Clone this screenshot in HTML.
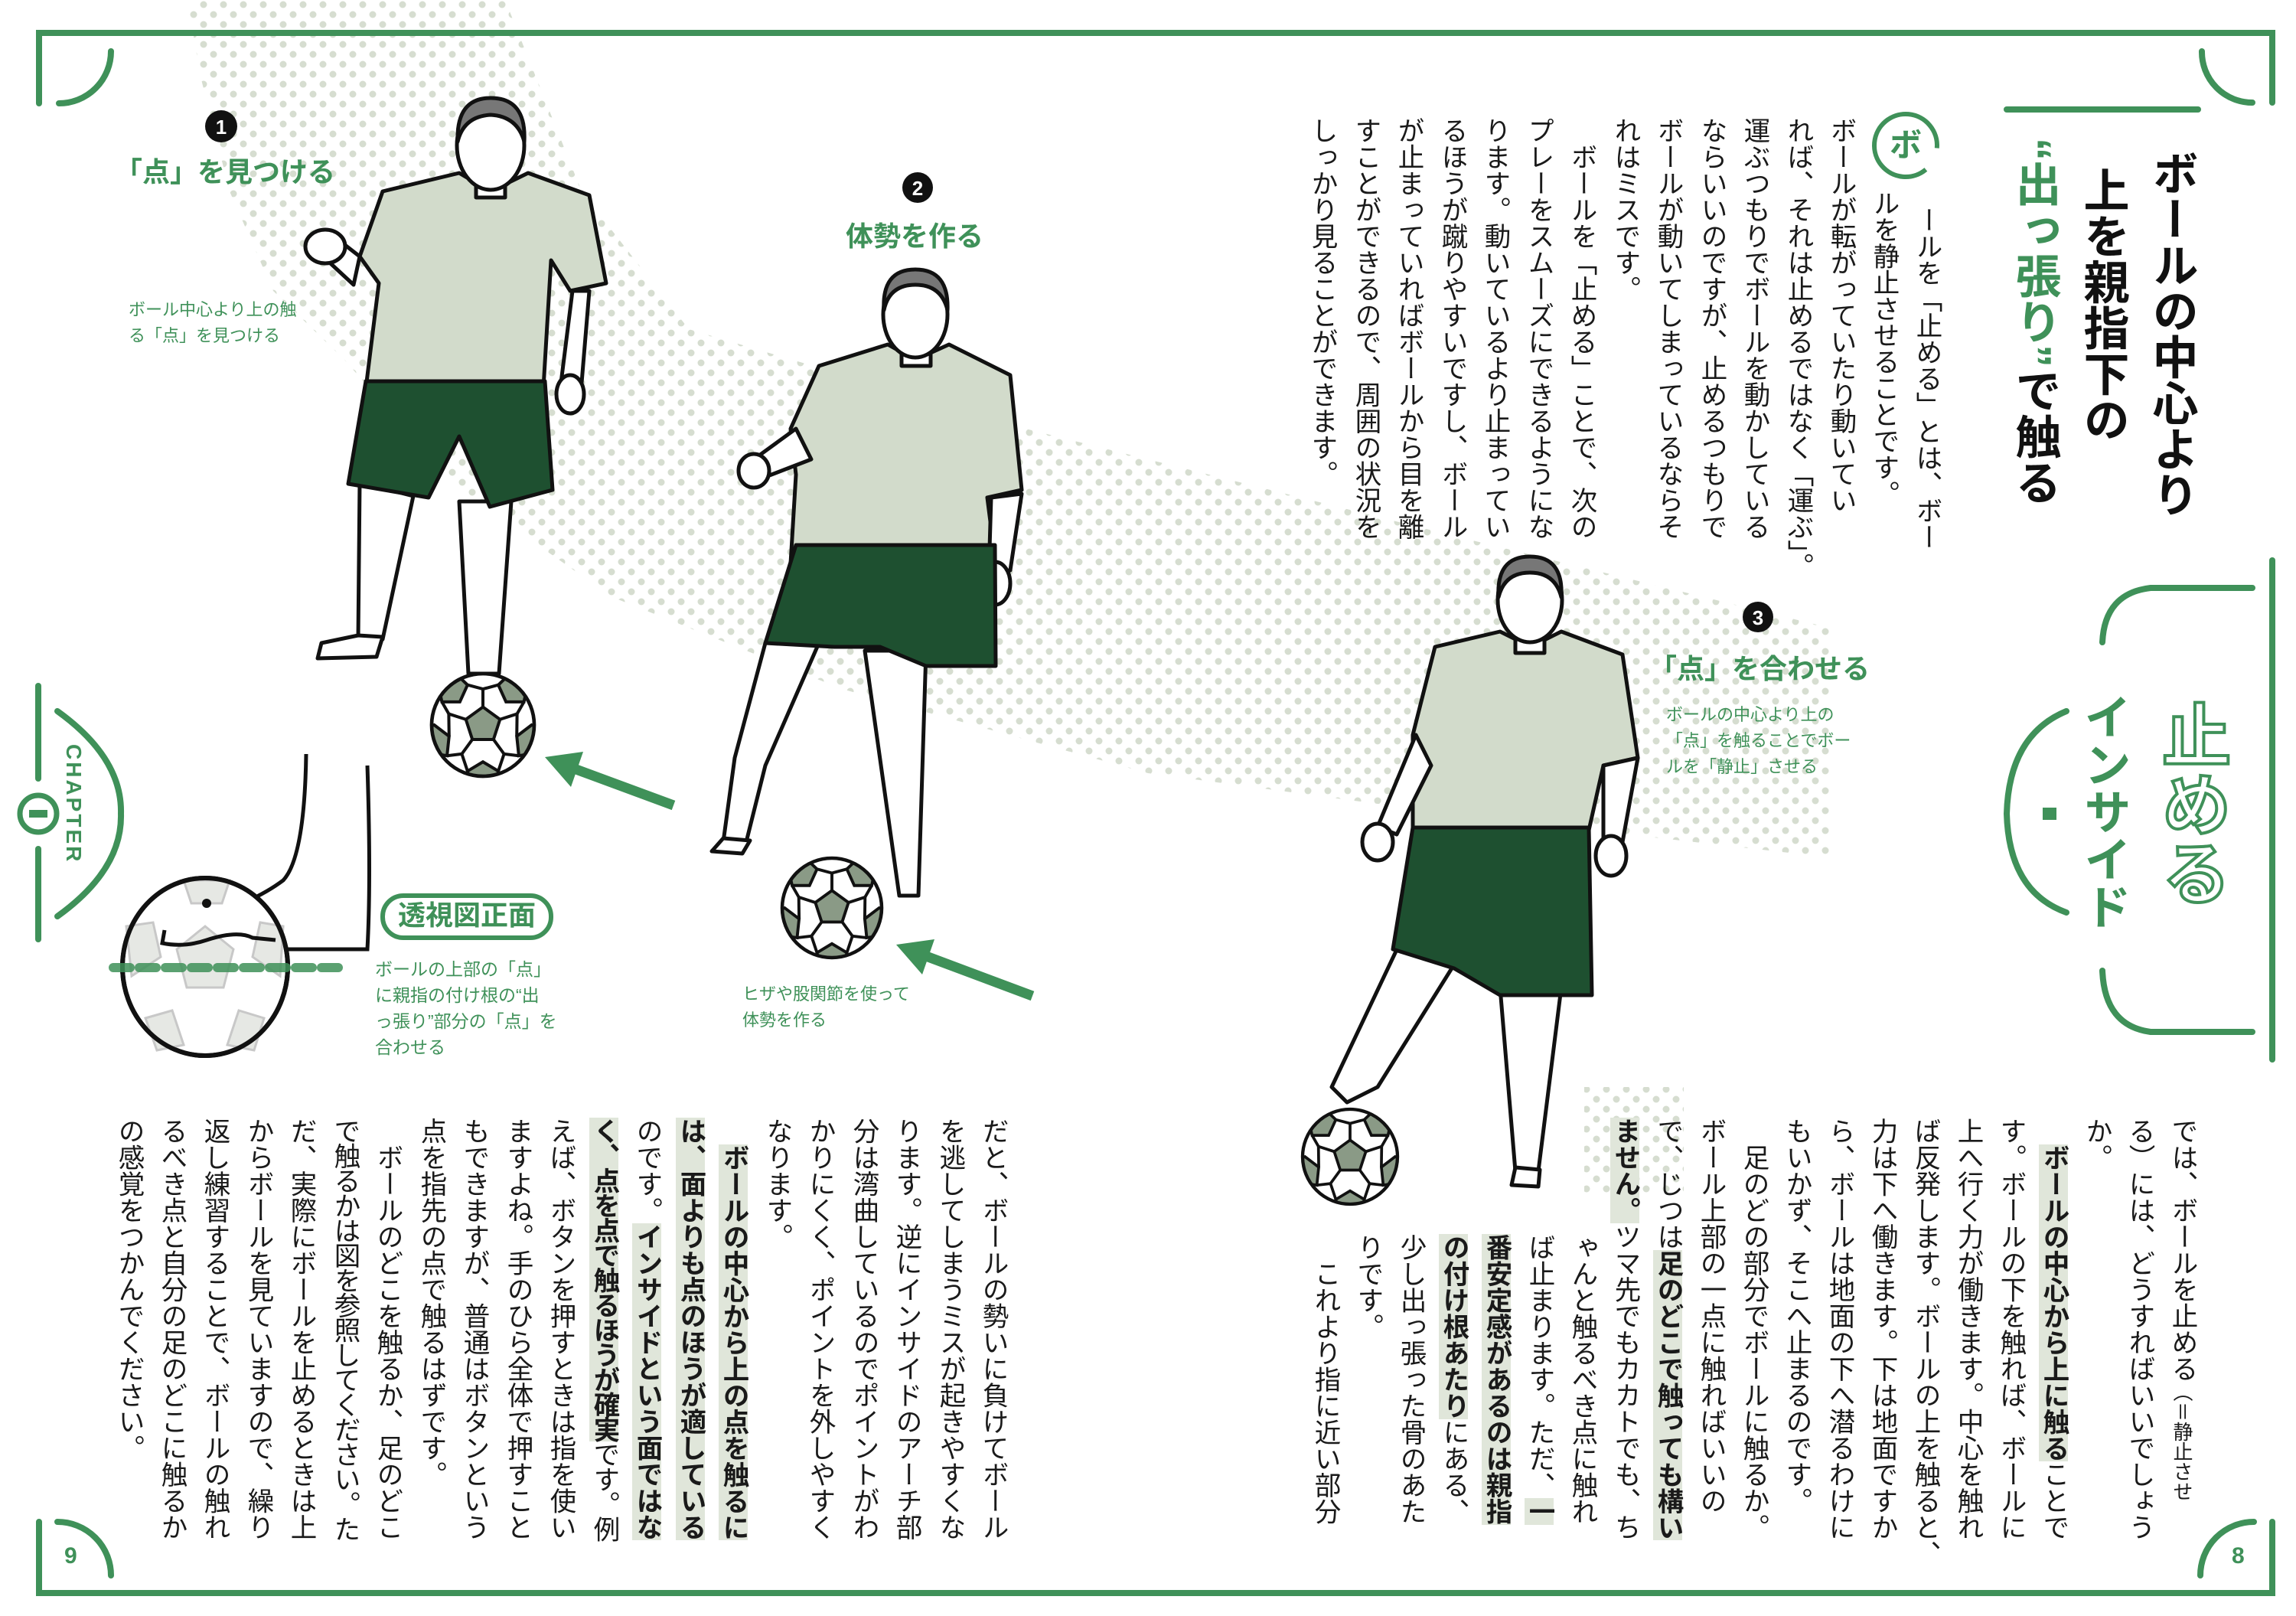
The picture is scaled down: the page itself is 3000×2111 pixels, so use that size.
<!DOCTYPE html>
<html><head><meta charset="utf-8">
<style>
html,body{margin:0;padding:0;background:#fff;}
#p{position:relative;width:3000px;height:2111px;overflow:hidden;background:#fff;font-family:"Liberation Sans","Noto Sans CJK JP",sans-serif;}
svg{position:absolute;left:0;top:0;}
.v{position:absolute;writing-mode:vertical-rl;font-size:34.5px;line-height:40px;width:40px;white-space:nowrap;color:#1a1a1a;font-family:"Liberation Sans","Noto Sans CJK JP",sans-serif;}
.v b{font-weight:700;background:#e0e6da;}
.g{color:#3f9159;}
.t{position:absolute;writing-mode:vertical-rl;font-size:60px;line-height:70px;width:70px;font-weight:700;white-space:nowrap;color:#111;}
.h{position:absolute;font-weight:700;color:#3f9159;white-space:nowrap;}
.c{position:absolute;color:#3f9159;font-size:22px;line-height:34px;white-space:nowrap;}
</style></head><body><div id="p">
<svg width="3000" height="2111" viewBox="0 0 3000 2111">
<defs>
<pattern id="dots" width="26" height="26" patternUnits="userSpaceOnUse">
<circle cx="6" cy="6" r="4.5" fill="#d6ddd0"/><circle cx="19" cy="19" r="4.5" fill="#d6ddd0"/>
</pattern>
<clipPath id="bc"><circle cx="0" cy="0" r="100"/></clipPath>
<g id="ball">
<circle r="100" fill="#fff"/>
<g clip-path="url(#bc)" stroke="#111" stroke-width="6" fill="#8a9a86">
<polygon points="0,-35 33.3,-10.8 20.6,28.3 -20.6,28.3 -33.3,-10.8"/>
<line x1="0" y1="-35" x2="0" y2="-70"/><line x1="33.3" y1="-10.8" x2="66.6" y2="-21.6"/>
<line x1="20.6" y1="28.3" x2="41.2" y2="56.6"/><line x1="-20.6" y1="28.3" x2="-41.2" y2="56.6"/>
<line x1="-33.3" y1="-10.8" x2="-66.6" y2="-21.6"/>
<polygon points="53,-100 88,-82 80,-45 45,-45 30,-78"/>
<polygon points="110,5 100,55 70,60 66,22 95,0"/>
<polygon points="-30,90 0,72 30,90 25,115 -25,115"/>
<polygon points="-110,5 -100,55 -70,60 -66,22 -95,0"/>
<polygon points="-53,-100 -88,-82 -80,-45 -45,-45 -30,-78"/>
<line x1="0" y1="-70" x2="30" y2="-78"/><line x1="0" y1="-70" x2="-30" y2="-78"/>
<line x1="66.6" y1="-21.6" x2="80" y2="-45"/><line x1="66.6" y1="-21.6" x2="66" y2="22"/>
<line x1="41.2" y1="56.6" x2="70" y2="60"/><line x1="41.2" y1="56.6" x2="30" y2="90"/>
<line x1="-41.2" y1="56.6" x2="-70" y2="60"/><line x1="-41.2" y1="56.6" x2="-30" y2="90"/>
<line x1="-66.6" y1="-21.6" x2="-80" y2="-45"/><line x1="-66.6" y1="-21.6" x2="-66" y2="22"/>
</g>
<circle r="100" fill="none" stroke="#111" stroke-width="7"/>
</g>
</defs>

<polygon fill="url(#dots)" points="245,0 660,0 760,250 900,430 1340,560 1900,700 2390,820 2390,1120 1950,1070 1500,1010 1100,900 800,780 600,640 450,470 357,380 300,250 262,100"/>
<polygon fill="url(#dots)" points="2070,1420 2200,1420 2200,1560 2070,1560"/>

<g fill="none" stroke="#3f9159" stroke-width="8" stroke-linecap="round">
<polyline points="51,135 51,43 2969,43 2969,134"/>
<path d="M145,67 A68,68 0 0 1 77,135"/>
<path d="M2877,67 A66,66 0 0 0 2943,134"/>
<polyline points="51,1988 51,2081 2969,2081 2969,1988"/>
<path d="M75,1988 A70,70 0 0 1 145,2058"/>
<path d="M2945,1988 A70,70 0 0 0 2875,2058"/>
<line x1="50" y1="896" x2="50" y2="1017"/><line x1="50" y1="1109" x2="50" y2="1227"/>
<circle cx="50" cy="1063" r="24" stroke-width="7"/>
<path d="M75,929 Q160,990 158,1063 Q160,1136 75,1197"/>
<line x1="2969" y1="732" x2="2969" y2="1384"/>
<path d="M2943,768 L2810,768 Q2750,775 2747,839"/>
<path d="M2747,1268 Q2750,1340 2810,1348 L2943,1348"/>
<path d="M2700,929 Q2625,960 2622,1063 Q2625,1165 2700,1192"/>
<line x1="2622" y1="143" x2="2872" y2="143"/>
</g>
<rect x="38" y="1058" width="24" height="10" fill="#3f9159"/>
<rect x="2669" y="1055" width="18" height="16" fill="#3f9159"/>
<circle cx="2490" cy="190" r="41" fill="none" stroke="#3f9159" stroke-width="6" stroke-dasharray="225,33" transform="rotate(50 2490 190)"/>
<rect x="500" y="1170" width="220" height="55" rx="27" fill="#fff" stroke="#3f9159" stroke-width="6"/>

<g stroke="#3f9159" stroke-width="13" fill="#3f9159">
<line x1="880" y1="1052" x2="750" y2="1004"/>
<polygon stroke="none" points="712,989 762,982 746,1028"/>
<line x1="1349" y1="1301" x2="1210" y2="1249"/>
<polygon stroke="none" points="1171,1234 1221,1227 1205,1273"/>
</g>

<circle cx="289" cy="165" r="21" fill="#111"/>
<circle cx="1199" cy="245" r="20" fill="#111"/>
<circle cx="2297" cy="806" r="20" fill="#111"/>
<g fill="#fff" font-family="Liberation Sans" font-weight="700" font-size="26" text-anchor="middle">
<text x="289" y="175">1</text><text x="1199" y="255">2</text><text x="2297" y="816">3</text></g>

<!-- FIGURE 1 -->
<g stroke="#111" stroke-width="5" stroke-linejoin="round">
<path d="M470,335 L500,250 L600,226 L641,250 L690,226 L770,255 L792,370 L745,380 L720,340 L710,507 L478,507 L495,370 Z" fill="#d2dbcb"/>
<path d="M470,335 L425,300 L408,322 L462,372 Z" fill="#fff"/>
<ellipse cx="425" cy="322" rx="26" ry="22" fill="#fff"/>
<path d="M748,380 L770,380 L760,500 L733,500 Z" fill="#fff"/>
<ellipse cx="745" cy="515" rx="18" ry="25" fill="#fff"/>
<path d="M470,630 L540,648 L500,835 L468,835 Z" fill="#fff"/>
<path d="M468,830 L500,832 L492,858 L415,860 L420,840 Z" fill="#fff"/>
<path d="M600,655 L668,655 L652,880 L612,880 Z" fill="#fff"/>
<path d="M478,498 L712,498 L722,640 L640,662 L600,570 L560,650 L455,632 Z" fill="#1e5030"/>
<rect x="622" y="228" width="38" height="30" fill="#fff"/>
<ellipse cx="641" cy="190" rx="44" ry="58" fill="#fff"/>
<path d="M598,185 Q596,128 641,128 Q688,128 685,185 Q676,152 641,150 Q606,152 598,185 Z" fill="#777"/>
</g>
<use href="#ball" transform="translate(631,947) scale(0.67)"/>

<!-- FIGURE 2 -->
<g stroke="#111" stroke-width="5" stroke-linejoin="round">
<path d="M1033,560 L1070,478 L1160,450 L1196,470 L1240,450 L1320,490 L1335,640 L1290,650 L1301,736 L1033,736 L1040,620 Z" fill="#d2dbcb"/>
<path d="M1040,560 L985,600 L995,625 L1060,600 Z" fill="#fff"/>
<ellipse cx="985" cy="615" rx="20" ry="22" fill="#fff"/>
<path d="M1295,650 L1335,645 L1320,745 L1292,750 Z" fill="#fff"/>
<ellipse cx="1300" cy="762" rx="20" ry="28" fill="#fff"/>
<path d="M1000,840 L1070,840 L1000,1000 L975,1100 L945,1100 L960,990 Z" fill="#fff"/>
<path d="M945,1095 L980,1098 L970,1115 L930,1112 Z" fill="#fff"/>
<path d="M1130,850 L1210,850 L1200,1170 L1175,1170 Z" fill="#fff"/>
<path d="M1040,712 L1300,712 L1301,870 L1210,870 L1150,845 L1090,845 L1000,840 Z" fill="#1e5030"/>
<rect x="1178" y="450" width="38" height="28" fill="#fff"/>
<ellipse cx="1196" cy="411" rx="42" ry="56" fill="#fff"/>
<path d="M1155,405 Q1152,352 1196,352 Q1240,352 1238,405 Q1230,372 1196,372 Q1162,372 1155,405 Z" fill="#777"/>
</g>
<use href="#ball" transform="translate(1087,1186) scale(0.65)"/>

<!-- FIGURE 3 -->
<g stroke="#111" stroke-width="5" stroke-linejoin="round">
<path d="M1846,960 L1875,845 L1960,825 L2000,845 L2040,825 L2120,855 L2140,990 L2095,1000 L2066,1129 L1846,1129 Z" fill="#d2dbcb"/>
<path d="M1850,960 L1800,1080 L1825,1090 L1870,1000 Z" fill="#fff"/>
<ellipse cx="1800" cy="1100" rx="20" ry="24" fill="#fff"/>
<path d="M2095,1000 L2140,990 L2120,1100 L2095,1100 Z" fill="#fff"/>
<ellipse cx="2105" cy="1118" rx="20" ry="26" fill="#fff"/>
<path d="M1830,1230 L1900,1260 L1800,1420 L1760,1440 L1740,1420 Z" fill="#fff"/>
<path d="M1960,1290 L2040,1290 L2010,1530 L1980,1530 Z" fill="#fff"/>
<path d="M1980,1525 L2012,1528 L2010,1550 L1975,1548 Z" fill="#fff"/>
<path d="M1846,1081 L2076,1081 L2080,1300 L1960,1300 L1900,1265 L1820,1240 Z" fill="#1e5030"/>
<rect x="1980" y="825" width="38" height="28" fill="#fff"/>
<ellipse cx="1999" cy="784" rx="42" ry="55" fill="#fff"/>
<path d="M1958,780 Q1955,727 1999,727 Q2043,727 2040,780 Q2032,748 1999,748 Q1966,748 1958,780 Z" fill="#777"/>
</g>
<use href="#ball" transform="translate(1764,1511) scale(0.62)"/>

<!-- perspective foot + ball -->
<path d="M400,985 Q398,1120 370,1150 Q330,1180 260,1200 L215,1215 L212,1235 L235,1240 L480,1240 Q485,1150 480,1000" fill="#fff" stroke="#111" stroke-width="5"/>
<ellipse cx="268" cy="1263" rx="108" ry="116" fill="#fff" stroke="#111" stroke-width="6"/>
<g fill="#e6e8e4" stroke="#c8c8c8" stroke-width="3">
<polygon points="268,1210 305,1240 292,1290 244,1290 231,1240"/>
<polygon points="240,1150 300,1150 290,1180 250,1180"/>
<polygon points="165,1210 200,1205 210,1250 172,1275"/>
<polygon points="370,1210 340,1205 330,1250 366,1275"/>
<polygon points="190,1330 225,1320 240,1365 205,1372"/>
<polygon points="345,1330 312,1320 297,1365 332,1372"/>
</g>
<ellipse cx="268" cy="1263" rx="108" ry="116" fill="none" stroke="#111" stroke-width="6"/>
<path d="M215,1215 L212,1232 Q240,1238 270,1228 Q310,1215 330,1225 L360,1228" fill="none" stroke="#111" stroke-width="5"/>
<circle cx="270" cy="1180" r="6" fill="#111"/>
<line x1="148" y1="1264" x2="445" y2="1264" stroke="#3f9159" stroke-width="12" stroke-dasharray="22,12" stroke-linecap="round" opacity="0.85"/>
</svg>

<div class="h" style="left:150px;top:196px;font-size:36px;">「点」を見つける</div>
<div class="c" style="left:168px;top:388px;">ボール中心より上の触<br>る「点」を見つける</div>
<div class="h" style="left:1105px;top:280px;font-size:36px;">体勢を作る</div>
<div class="h" style="left:2155px;top:845px;font-size:36px;">「点」を合わせる</div>
<div class="c" style="left:2177px;top:917px;">ボールの中心より上の<br>「点」を触ることでボー<br>ルを「静止」させる</div>
<div class="c" style="left:970px;top:1282px;">ヒザや股関節を使って<br>体勢を作る</div>
<div class="h" style="left:520px;top:1170px;font-size:36px;line-height:52px;">透視図正面</div>
<div class="c" style="left:490px;top:1249px;font-size:23px;">ボールの上部の「点」<br>に親指の付け根の“出<br>っ張り”部分の「点」を<br>合わせる</div>
<div class="h" style="left:2469px;top:162px;font-size:42px;line-height:56px;">ボ</div>
<div class="h" style="left:84px;top:2016px;font-size:30px;">9</div>
<div class="h" style="left:2916px;top:2016px;font-size:30px;">8</div>
<div class="h" style="left:80px;top:972px;font-size:28px;writing-mode:vertical-rl;letter-spacing:3px;">CHAPTER</div>
<div class="h" style="left:2708px;top:905px;font-size:62px;writing-mode:vertical-rl;line-height:78px;">インサイド</div>
<div class="h" style="left:2813px;top:915px;font-size:90px;writing-mode:vertical-rl;line-height:96px;color:#fff;-webkit-text-stroke:4px #3f9159;">止める</div>

<div class="t" style="left:2802px;top:196px;">ボールの中心より</div>
<div class="t" style="left:2712px;top:218px;">上を親指下の</div>
<div class="t" style="left:2623px;top:180px;"><span class="g">“出っ張り”</span>で触る</div>

<div class="v" style="left:2497px;top:270px;">ールを「止める」とは、ボー</div>
<div class="v" style="left:2441px;top:248px;">ルを静止させることです。</div>
<div class="v" style="left:2385px;top:153px;">ボールが転がっていたり動いてい</div>
<div class="v" style="left:2329px;top:153px;">れば、それは止めるではなく「運ぶ」。</div>
<div class="v" style="left:2272px;top:153px;">運ぶつもりでボールを動かしている</div>
<div class="v" style="left:2216px;top:153px;">ならいいのですが、止めるつもりで</div>
<div class="v" style="left:2159px;top:153px;">ボールが動いてしまっているならそ</div>
<div class="v" style="left:2103px;top:153px;">れはミスです。</div>
<div class="v" style="left:2046px;top:153px;">　ボールを「止める」ことで、次の</div>
<div class="v" style="left:1990px;top:153px;">プレーをスムーズにできるようにな</div>
<div class="v" style="left:1933px;top:153px;">ります。動いているより止まってい</div>
<div class="v" style="left:1877px;top:153px;">るほうが蹴りやすいですし、ボール</div>
<div class="v" style="left:1820px;top:153px;">が止まっていればボールから目を離</div>
<div class="v" style="left:1764px;top:153px;">すことができるので、周囲の状況を</div>
<div class="v" style="left:1707px;top:153px;">しっかり見ることができます。</div>

<div class="v" style="left:2831px;top:1460px;">では、ボールを止める<span style="font-size:26px">（＝静止させ</span></div>
<div class="v" style="left:2775px;top:1460px;">る）には、どうすればいいでしょう</div>
<div class="v" style="left:2719px;top:1460px;">か。</div>
<div class="v" style="left:2663px;top:1460px;">　<b>ボールの中心から上に触る</b>ことで</div>
<div class="v" style="left:2607px;top:1460px;">す。ボールの下を触れば、ボールに</div>
<div class="v" style="left:2551px;top:1460px;">上へ行く力が働きます。中心を触れ</div>
<div class="v" style="left:2495px;top:1460px;">ば反発します。ボールの上を触ると、</div>
<div class="v" style="left:2439px;top:1460px;">力は下へ働きます。下は地面ですか</div>
<div class="v" style="left:2383px;top:1460px;">ら、ボールは地面の下へ潜るわけに</div>
<div class="v" style="left:2327px;top:1460px;">もいかず、そこへ止まるのです。</div>
<div class="v" style="left:2271px;top:1460px;">　足のどの部分でボールに触るか。</div>
<div class="v" style="left:2215px;top:1460px;">ボール上部の一点に触ればいいの</div>
<div class="v" style="left:2159px;top:1460px;">で、じつは<b>足のどこで触っても構い</b></div>
<div class="v" style="left:2103px;top:1460px;"><b>ません。</b>ツマ先でもカカトでも、ち</div>
<div class="v" style="left:2047px;top:1612px;">ゃんと触るべき点に触れ</div>
<div class="v" style="left:1991px;top:1612px;">ば止まります。ただ、<b>一</b></div>
<div class="v" style="left:1935px;top:1612px;"><b>番安定感があるのは親指</b></div>
<div class="v" style="left:1879px;top:1612px;"><b>の付け根あたり</b>にある、</div>
<div class="v" style="left:1823px;top:1612px;">少し出っ張った骨のあた</div>
<div class="v" style="left:1767px;top:1612px;">りです。</div>
<div class="v" style="left:1711px;top:1612px;">　これより指に近い部分</div>

<div class="v" style="left:1277px;top:1460px;">だと、ボールの勢いに負けてボール</div>
<div class="v" style="left:1221px;top:1460px;">を逃してしまうミスが起きやすくな</div>
<div class="v" style="left:1164px;top:1460px;">ります。逆にインサイドのアーチ部</div>
<div class="v" style="left:1108px;top:1460px;">分は湾曲しているのでポイントがわ</div>
<div class="v" style="left:1051px;top:1460px;">かりにくく、ポイントを外しやすく</div>
<div class="v" style="left:995px;top:1460px;">なります。</div>
<div class="v" style="left:938px;top:1460px;">　<b>ボールの中心から上の点を触るに</b></div>
<div class="v" style="left:882px;top:1460px;"><b>は、面よりも点のほうが適している</b></div>
<div class="v" style="left:825px;top:1460px;">のです。<b>インサイドという面ではな</b></div>
<div class="v" style="left:769px;top:1460px;letter-spacing:-2px;"><b>く、点を点で触るほうが確実</b>です。例</div>
<div class="v" style="left:712px;top:1460px;">えば、ボタンを押すときは指を使い</div>
<div class="v" style="left:656px;top:1460px;">ますよね。手のひら全体で押すこと</div>
<div class="v" style="left:599px;top:1460px;">もできますが、普通はボタンという</div>
<div class="v" style="left:543px;top:1460px;">点を指先の点で触るはずです。</div>
<div class="v" style="left:486px;top:1460px;">　ボールのどこを触るか、足のどこ</div>
<div class="v" style="left:430px;top:1460px;letter-spacing:-2px;">で触るかは図を参照してください。た</div>
<div class="v" style="left:373px;top:1460px;">だ、実際にボールを止めるときは上</div>
<div class="v" style="left:317px;top:1460px;">からボールを見ていますので、繰り</div>
<div class="v" style="left:260px;top:1460px;">返し練習することで、ボールの触れ</div>
<div class="v" style="left:204px;top:1460px;">るべき点と自分の足のどこに触るか</div>
<div class="v" style="left:148px;top:1460px;">の感覚をつかんでください。</div>
</div></body></html>
